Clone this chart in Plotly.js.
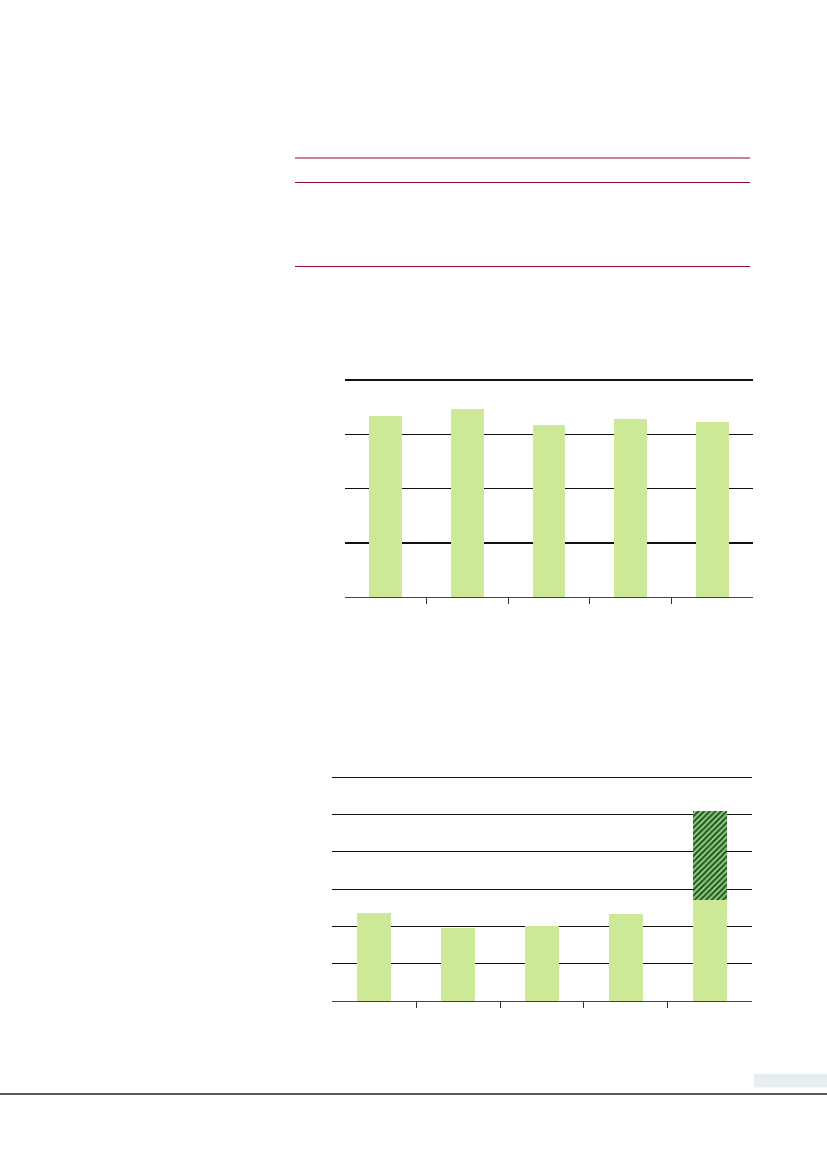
<!DOCTYPE html>
<html>
<head>
<meta charset="utf-8">
<script src="https://cdn.plot.ly/plotly-3.0.1.min.js"></script>
<style>
html,body{margin:0;padding:0;background:#fff;}
#chart{width:827px;height:1169px;}
</style>
</head>
<body>
<div id="chart"></div>
<script>
// Data
var categories = [0, 1, 2, 3, 4];
var chart1Values = [3.34, 3.46, 3.17, 3.28, 3.23];
var chart2Base = [2.36, 1.96, 2.02, 2.32, 2.72];
var chart2Hatched = [null, null, null, null, 2.37];
var boundaryTicks = [0.5, 1.5, 2.5, 3.5];
var chart1Grid = [1, 2, 3, 4];
var chart2Grid = [1, 2, 3, 4, 5, 6];

var barColor = '#cce997';
var gridColor = '#111111';

var traces = [
  {type:'bar', x:categories, y:chart1Values, xaxis:'x', yaxis:'y',
   marker:{color:barColor, line:{width:0}}, width:0.4, hoverinfo:'none', showlegend:false},
  {type:'bar', x:categories, y:chart2Base, xaxis:'x2', yaxis:'y2',
   marker:{color:barColor, line:{width:0}}, width:0.4, hoverinfo:'none', showlegend:false},
  {type:'bar', x:categories, y:chart2Hatched, xaxis:'x2', yaxis:'y2',
   marker:{color:'#9fd07a', line:{width:0},
     pattern:{shape:'/', fgcolor:'#1d5a2a', bgcolor:'#a8d883', size:4, solidity:0.55}},
   width:0.4, hoverinfo:'none', showlegend:false}
];

var H = 1169, W = 827;
function py(p){ return 1 - p / H; }

var xCommon = {
  range:[-0.5, 4.5], showgrid:false, zeroline:false, showticklabels:false,
  tickmode:'array', tickvals:boundaryTicks, ticks:'outside', ticklen:6, tickwidth:1, tickcolor:'#333',
  showline:true, linecolor:'#444', linewidth:1, fixedrange:true
};

// chart 1: 0 at y=597.3, 4 at y=380 ; chart 2: 0 at 1001, 6 at 777.3
var u1 = (597.3 - 380) / 4, u2 = (1001 - 777.3) / 6, pad = 0.04;

var layout = {
  width:W, height:H, margin:{l:0,r:0,t:0,b:0},
  paper_bgcolor:'#fff', plot_bgcolor:'rgba(0,0,0,0)',
  barmode:'stack', showlegend:false,
  xaxis: Object.assign({}, xCommon, {domain:[345/W, 753/W], anchor:'y'}),
  yaxis: {domain:[py(597.3), py(380 - pad*u1)], range:[0, 4 + pad], anchor:'x',
    tickmode:'array', tickvals:chart1Grid, showticklabels:false, ticks:'', showgrid:true,
    gridcolor:gridColor, gridwidth:1.1, zeroline:false, showline:false, fixedrange:true},
  xaxis2: Object.assign({}, xCommon, {domain:[332.3/W, 751.7/W], anchor:'y2'}),
  yaxis2: {domain:[py(1001), py(777.3 - pad*u2)], range:[0, 6 + pad], anchor:'x2',
    tickmode:'array', tickvals:chart2Grid, showticklabels:false, ticks:'', showgrid:true,
    gridcolor:gridColor, gridwidth:1.1, zeroline:false, showline:false, fixedrange:true},
  shapes:[
    {type:'line', xref:'paper', yref:'paper', x0:295/W, x1:750/W, y0:py(158), y1:py(158), line:{color:'#8a0a32', width:1.2}},
    {type:'line', xref:'paper', yref:'paper', x0:295/W, x1:750/W, y0:py(182.5), y1:py(182.5), line:{color:'#8a0a32', width:1.2}},
    {type:'line', xref:'paper', yref:'paper', x0:295/W, x1:750/W, y0:py(266.5), y1:py(266.5), line:{color:'#8a0a32', width:1.2}},
    {type:'line', xref:'paper', yref:'paper', x0:0, x1:1, y0:py(1094), y1:py(1094), line:{color:'#222', width:1.4}},
    {type:'rect', xref:'paper', yref:'paper', x0:754/W, x1:1, y0:py(1087.5), y1:py(1074), line:{width:0}, fillcolor:'#e7eef2'}
  ]
};

Plotly.newPlot('chart', traces, layout, {staticPlot:true, displayModeBar:false});
</script>
</body>
</html>
